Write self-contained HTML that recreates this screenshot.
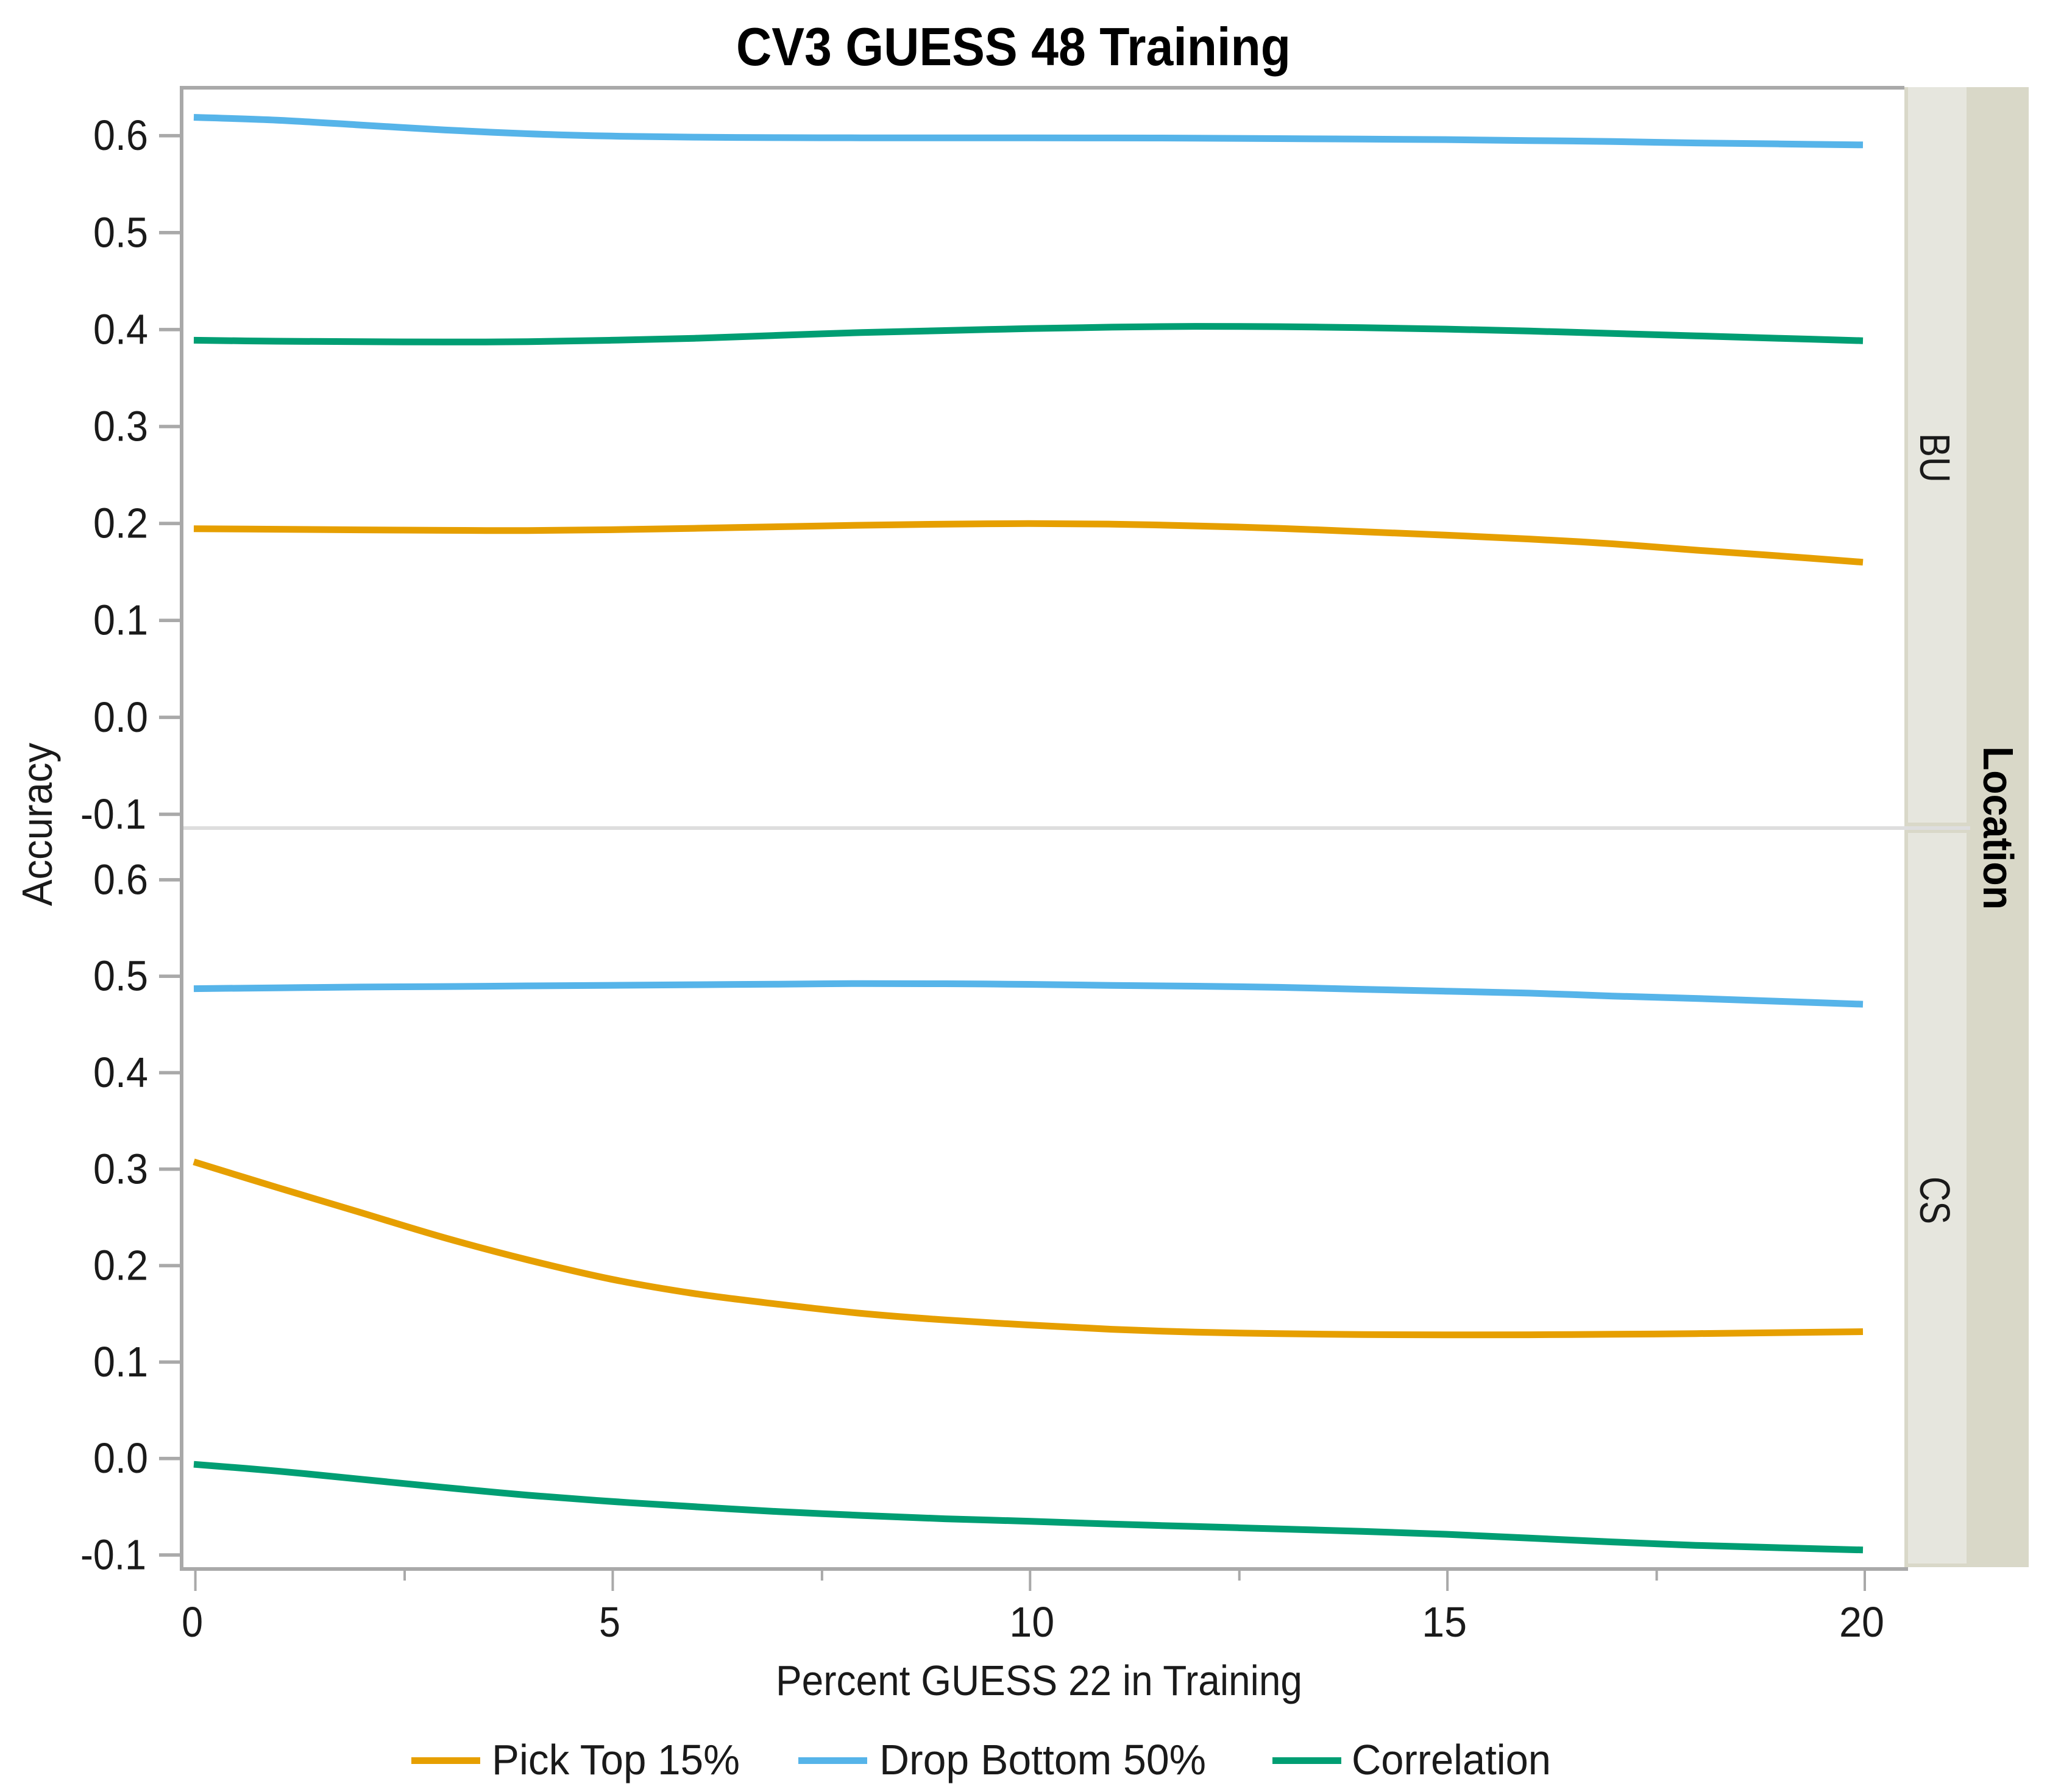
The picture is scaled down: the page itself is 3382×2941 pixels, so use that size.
<!DOCTYPE html>
<html lang="en">
<head>
<meta charset="utf-8">
<title>CV3 GUESS 48 Training</title>
<style>
html,body{margin:0;padding:0;background:#fff;width:3382px;height:2941px;overflow:hidden}
svg{display:block}
text{font-family:"Liberation Sans",sans-serif;fill:#1a1a1a}
</style>
</head>
<body>
<svg id="chart" xmlns="http://www.w3.org/2000/svg" width="3382" height="2941" viewBox="0 0 3382 2941">
  <rect x="0" y="0" width="3382" height="2941" fill="#fff"/>
  <text x="1208" y="107" font-size="88" font-weight="700" textLength="910" lengthAdjust="spacingAndGlyphs" style="fill:#000">CV3 GUESS 48 Training</text>

  <rect x="3125" y="143" width="204" height="2429" fill="#d9d8c8"/>
  <rect x="3131" y="143" width="96" height="1207" fill="#e6e6de"/>
  <rect x="3131" y="1367" width="96" height="1199" fill="#e6e6de"/>
  <text transform="translate(3151,711) rotate(90)" font-size="70" textLength="81" lengthAdjust="spacingAndGlyphs">BU</text>
  <text transform="translate(3151,1931) rotate(90)" font-size="70" textLength="78" lengthAdjust="spacingAndGlyphs">CS</text>
  <text transform="translate(3255,1225) rotate(90)" font-size="70" font-weight="700" textLength="268" lengthAdjust="spacingAndGlyphs" style="fill:#000">Location</text>

  <rect x="295" y="141" width="2830" height="6" fill="#a9a9a9"/>
  <rect x="295" y="141" width="6" height="2436" fill="#a9a9a9"/>
  <rect x="295" y="2572" width="2836" height="6" fill="#a9a9a9"/>
  <rect x="301" y="1356" width="2932" height="6" fill="#dedede"/>

  <g id="ticks"></g>
  <g id="marks"></g>

  <text transform="translate(85,1487) rotate(-90)" font-size="70" textLength="268" lengthAdjust="spacingAndGlyphs">Accuracy</text>
  <text x="1273" y="2782" font-size="70" textLength="864" lengthAdjust="spacingAndGlyphs">Percent GUESS 22 in Training</text>

  <g>
    <rect x="675" y="2884" width="113" height="11" fill="#E69F00"/>
    <text x="807" y="2912" font-size="70" textLength="407" lengthAdjust="spacingAndGlyphs">Pick Top 15%</text>
    <rect x="1310" y="2884" width="113" height="11" fill="#56B4E9"/>
    <text x="1443" y="2912" font-size="70" textLength="536" lengthAdjust="spacingAndGlyphs">Drop Bottom 50%</text>
    <rect x="2088" y="2884" width="113" height="11" fill="#009E73"/>
    <text x="2218" y="2912" font-size="70" textLength="327" lengthAdjust="spacingAndGlyphs">Correlation</text>
  </g>
</svg>
<script>
var percentValues = [0,1,2,3,4,5,6,7,8,9,10,11,12,13,14,15,16,17,18,19,20];
var buPickTop = [0.1946,0.1940,0.1934,0.1929,0.1927,0.1935,0.1950,0.1966,0.1982,0.1993,0.1999,0.1993,0.1975,0.1950,0.1915,0.1880,0.1840,0.1790,0.1725,0.1665,0.1600];
var buDropBottom = [0.6190,0.6160,0.6110,0.6060,0.6020,0.5996,0.5985,0.5980,0.5978,0.5978,0.5978,0.5977,0.5975,0.5970,0.5965,0.5960,0.5950,0.5940,0.5925,0.5915,0.5905];
var buCorrelation = [0.3890,0.3880,0.3875,0.3872,0.3875,0.3890,0.3910,0.3940,0.3970,0.3990,0.4010,0.4025,0.4033,0.4030,0.4020,0.4005,0.3985,0.3960,0.3935,0.3910,0.3885];
var csPickTop = [0.3076,0.2810,0.2550,0.2290,0.2060,0.1860,0.1710,0.1600,0.1505,0.1437,0.1385,0.1340,0.1310,0.1295,0.1285,0.1282,0.1283,0.1288,0.1295,0.1305,0.1315];
var csDropBottom = [0.4871,0.4880,0.4888,0.4893,0.4900,0.4906,0.4912,0.4918,0.4924,0.4922,0.4916,0.4905,0.4897,0.4885,0.4865,0.4845,0.4825,0.4795,0.4770,0.4740,0.4710];
var csCorrelation = [-0.0060,-0.0130,-0.0215,-0.0300,-0.0380,-0.0445,-0.0500,-0.0550,-0.0590,-0.0625,-0.0650,-0.0680,-0.0705,-0.0730,-0.0755,-0.0785,-0.0825,-0.0865,-0.0900,-0.0925,-0.0948];
var yTickValues = [0.6,0.5,0.4,0.3,0.2,0.1,0.0,-0.1];
var yTickLabels = ["0.6","0.5","0.4","0.3","0.2","0.1","0.0","-0.1"];
var xMajorTicks = [0,5,10,15,20];
var xMajorLabels = ["0","5","10","15","20"];
var xMinorTicks = [2.5,7.5,12.5,17.5];

var NS = "http://www.w3.org/2000/svg";
var ticksGroup = document.getElementById("ticks");
var marksGroup = document.getElementById("marks");

function xMark(v){ return 318 + 136.95 * v; }
function xTick(v){ return 320.6 + 136.97 * v; }
function yTop(v){ return 1177.3 - 1591 * v; }
function yBottom(v){ return 2393.7 - 1583 * v; }

function make(tag, attrs, parent){
  var el = document.createElementNS(NS, tag);
  for (var k in attrs) el.setAttribute(k, attrs[k]);
  parent.appendChild(el);
  return el;
}

function drawYAxis(scale, panel){
  yTickValues.forEach(function(v, i){
    var y = scale(v);
    var tick = make("rect", {x:261, y:y-2.8, width:34, height:5.6, fill:"#a9a9a9"}, ticksGroup);
    
    
    var label = yTickLabels[i];
    var t = make("text", {x:label.length > 3 ? 240 : 243, y:y+23.5, "font-size":70, "text-anchor":"end", textLength:label.length > 3 ? 108 : 90, lengthAdjust:"spacingAndGlyphs"}, ticksGroup);
    t.textContent = label;
    
    
  });
}
drawYAxis(yTop, "bu");
drawYAxis(yBottom, "cs");

xMajorTicks.forEach(function(v, i){
  var x = xTick(v);
  var tick = make("rect", {x:x-2, y:2578, width:4, height:33, fill:"#a9a9a9"}, ticksGroup);
  
  
  var label = xMajorLabels[i];
  var t = make("text", {x:x-(v === 10 ? -3 : 5), y:2686, "font-size":70, "text-anchor":"middle", textLength:label.length > 1 ? 74 : 35, lengthAdjust:"spacingAndGlyphs"}, ticksGroup);
  t.textContent = label;
  
  
});
xMinorTicks.forEach(function(v){
  var tick = make("rect", {x:xTick(v)-1, y:2578, width:4, height:16, fill:"#a9a9a9"}, ticksGroup);
  
  
});

function smoothPath(values, scale){
  var px = values.map(function(v, i){ return [xMark(percentValues[i]), scale(v)]; });
  var d = "M" + px[0][0].toFixed(1) + " " + px[0][1].toFixed(1);
  for (var i = 0; i < px.length - 1; i++){
    var p0 = px[Math.max(i - 1, 0)], p1 = px[i], p2 = px[i + 1], p3 = px[Math.min(i + 2, px.length - 1)];
    var c1x = p1[0] + (p2[0] - p0[0]) / 6, c1y = p1[1] + (p2[1] - p0[1]) / 6;
    var c2x = p2[0] - (p3[0] - p1[0]) / 6, c2y = p2[1] - (p3[1] - p1[1]) / 6;
    d += "C" + c1x.toFixed(1) + " " + c1y.toFixed(1) + " " + c2x.toFixed(1) + " " + c2y.toFixed(1) + " " + p2[0].toFixed(1) + " " + p2[1].toFixed(1);
  }
  return d;
}

function drawLine(values, scale, color, name){
  var line = make("path", {d:smoothPath(values, scale), fill:"none", stroke:color, "stroke-width":11, "stroke-linejoin":"round", "stroke-linecap":"butt"}, marksGroup);
  
  
}
drawLine(buPickTop, yTop, "#E69F00", "line-bu-pick-top");
drawLine(buDropBottom, yTop, "#56B4E9", "line-bu-drop-bottom");
drawLine(buCorrelation, yTop, "#009E73", "line-bu-correlation");
drawLine(csPickTop, yBottom, "#E69F00", "line-cs-pick-top");
drawLine(csDropBottom, yBottom, "#56B4E9", "line-cs-drop-bottom");
drawLine(csCorrelation, yBottom, "#009E73", "line-cs-correlation");
</script>
</body>
</html>
